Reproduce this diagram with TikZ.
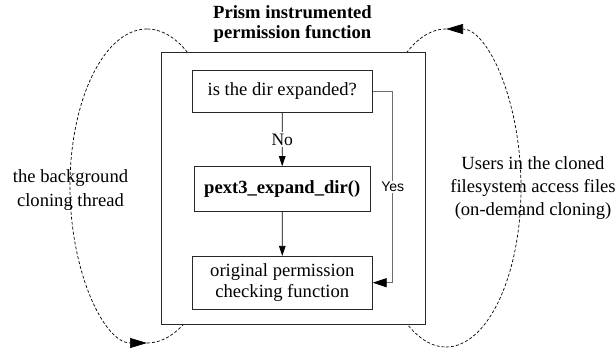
\documentclass[tikz,border=0pt]{standalone}
\usepackage{fontspec}
\setmainfont{Liberation Serif}
\newfontfamily\arialfont{Liberation Sans}
\usetikzlibrary{arrows.meta}
\definecolor{yesgray}{RGB}{110,110,110}
\definecolor{boxgray}{RGB}{40,40,40}
\begin{document}
\begin{tikzpicture}[x=1pt,y=-1pt,
  txt/.style={font=\fontsize{18.6}{21.6}\selectfont, align=center, inner sep=0pt},
  fbox/.style={draw=boxgray, line width=0.8pt, inner sep=0pt, font=\fontsize{18.6}{21.6}\selectfont, align=center},
  outerbox/.style={draw=boxgray, line width=0.9pt, fill=white, inner sep=0pt},
  arr/.style={line width=0.8pt, -{Triangle[length=10pt,width=6.5pt]}},
  yesarr/.style={draw=yesgray, line width=0.9pt, -{Triangle[length=14pt,width=9pt, color=black]}},
  loop/.style={line width=0.7pt, dash pattern=on 3pt off 2pt},
  looparr/.style={loop, -{Triangle[length=17pt,width=10pt]}},
  lbl/.style={fill=white, inner sep=1.5pt, font=\fontsize{17.5}{18}\selectfont},
  ylbl/.style={fill=white, inner sep=1.5pt, text=black, font=\arialfont\fontsize{14}{14}\selectfont}]
\useasboundingbox (0,0) rectangle (616,352);
% left loop (ellipse centre (147,186))
\draw[looparr] (147,29) .. controls (104.5,29) and (70,99.3) .. (70,186)
  .. controls (70,272.7) and (104.5,343) .. (147,343);
\draw[loop] (147,343) .. controls (189.5,343) and (224,272.7) .. (224,186)
  .. controls (224,99.3) and (189.5,29) .. (147,29);
% right loop (ellipse centre (446,188))
\draw[looparr] (446,347) .. controls (487.4,347) and (521,275.8) .. (521,188)
  .. controls (521,100.2) and (487.4,29) .. (446,29);
\draw[loop] (446,29) .. controls (404.6,29) and (371,100.2) .. (371,188)
  .. controls (371,275.8) and (404.6,347) .. (446,347);
% outer box
\node[outerbox, minimum width=264pt, minimum height=272pt] (outer) at (293,188.7) {};
\node[txt, font=\bfseries\fontsize{18.6}{20}\selectfont] (title) at (292.5,24) {Prism instrumented\\permission function};
% inner boxes
\node[fbox, minimum width=180pt, minimum height=42.7pt] (b1) at (282.3,91.3) {is the dir expanded?};
\node[fbox, minimum width=175.7pt, minimum height=44.3pt, font=\bfseries\fontsize{18.6}{21.6}\selectfont] (b2) at (282.2,188.8) {pext3\_expand\_dir()};
\node[fbox, minimum width=180pt, minimum height=52.7pt] (b3) at (282.3,282.7) {original permission\\checking function};
\draw[arr] (b1) -- node[lbl] {No} (b2);
\draw[arr] (b2) -- (b3);
\draw[yesarr] (b1.east) -- ++(20,0) |- node[pos=0.25, ylbl] {Yes} (b3.east);
% side texts
\node[txt, font=\fontsize{18.6}{24}\selectfont] (lefttxt) at (70.5,190) {the background\\cloning thread};
\node[txt, font=\fontsize{18.6}{23}\selectfont] (righttxt) at (533,188) {Users in the cloned\\filesystem access files\\(on-demand cloning)};
\end{tikzpicture}
\end{document}
